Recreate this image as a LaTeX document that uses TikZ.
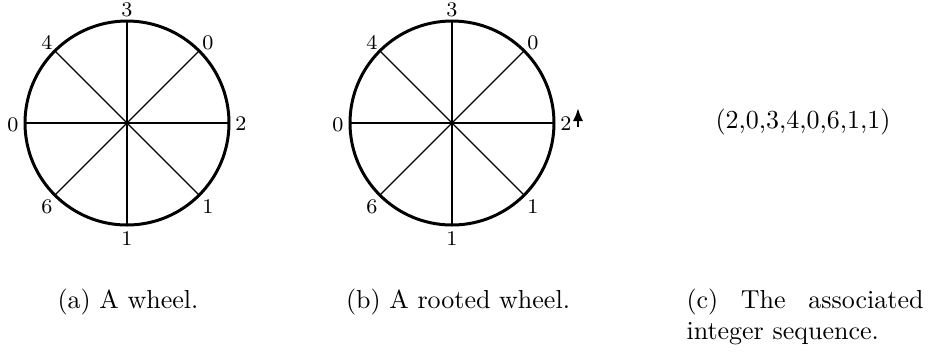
\documentclass[tikz,border=0pt]{standalone}
\usetikzlibrary{arrows.meta,calc}
\begin{document}
\begin{tikzpicture}[x=0.3846pt,y=-0.3846pt,
  rim/.style={line width=1.15pt},
  spoke/.style={line width=0.5pt},
  lbl/.style={font=\footnotesize,inner sep=0pt},
  captext/.style={font=\normalsize,inner sep=0pt,anchor=base},
  seqtext/.style={font=\normalsize,inner sep=0pt,anchor=base}]
\useasboundingbox (0,0) rectangle (930,356);
\foreach \w/\cx in {a/127,b/452}{
  \coordinate (\w c) at (\cx,123);
  \foreach \ang in {0,45,...,315}{
    \coordinate (\w r\ang) at ($(\w c)+(\ang:102)$);
    \draw[spoke] (\w c) -- (\w r\ang);
  }
  \draw[rim] (\w c) circle[radius=102];
  \node[lbl] (\w t)  at ($(\w c)+(0,-113)$) {3};
  \node[lbl] (\w tr) at ($(\w c)+(81,-80)$) {0};
  \node[lbl] (\w r)  at ($(\w c)+(114,1)$) {2};
  \node[lbl] (\w br) at ($(\w c)+(81,84)$) {1};
  \node[lbl] (\w b)  at ($(\w c)+(0,116)$) {1};
  \node[lbl] (\w bl) at ($(\w c)+(-80,84)$) {6};
  \node[lbl] (\w l)  at ($(\w c)+(-114,2)$) {0};
  \node[lbl] (\w tl) at ($(\w c)+(-80,-81)$) {4};
}
\coordinate (arB) at (578,127);
\coordinate (arT) at (578,108);
\draw[line width=1pt,-{Latex[length=5pt,width=4pt]}] (arB) -- (arT);
\node[seqtext] (s) at (803,128) {(2,0,3,4,0,6,1,1)};
\node[captext] (capa) at (128,308) {(a) A wheel.};
\node[captext] (capb) at (458,308) {(b) A rooted wheel.};
\node[captext,anchor=base west] (capc1) at (686,308) {\makebox[91.15pt][s]{(c) The associated}};
\node[captext,anchor=base west] (capc2) at (686,339) {integer sequence.};
\end{tikzpicture}
\end{document}
